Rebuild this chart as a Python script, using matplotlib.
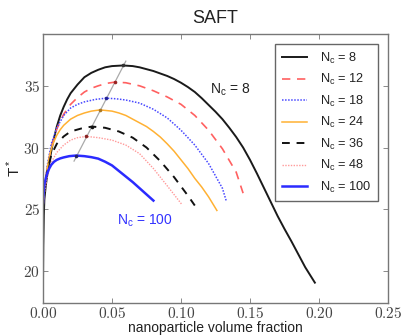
import numpy as np
import matplotlib
matplotlib.use("Agg")
import matplotlib.pyplot as plt
from matplotlib.ticker import FuncFormatter

# --- data ---
chain_lengths = [8, 12, 18, 24, 36, 48, 100]

x8 = [0.0, 0.0002, 0.0006, 0.001, 0.002, 0.003, 0.004, 0.0055, 0.007, 0.0085, 0.01, 0.0125,
      0.015, 0.0175, 0.02, 0.025, 0.03, 0.035, 0.04, 0.045, 0.05, 0.058, 0.065, 0.07, 0.075,
      0.08, 0.085, 0.09, 0.095, 0.10, 0.105, 0.11, 0.115, 0.12, 0.125, 0.13, 0.135, 0.14,
      0.145, 0.15, 0.155, 0.16, 0.165, 0.17, 0.175, 0.18, 0.185, 0.19, 0.197]
T8 = [19.0, 22.0, 24.5, 25.8, 26.9, 27.7, 28.4, 29.4, 30.3, 31.0, 31.7, 32.6,
      33.3, 33.9, 34.4, 35.1, 35.7, 36.05, 36.3, 36.5, 36.6, 36.65, 36.6, 36.5, 36.35,
      36.2, 36.0, 35.8, 35.55, 35.25, 34.9, 34.5, 34.0, 33.45, 32.9, 32.3, 31.6, 30.85,
      30.0, 29.0, 27.9, 26.75, 25.6, 24.45, 23.4, 22.4, 21.35, 20.3, 19.05]

x12 = [0.0, 0.001, 0.003, 0.006, 0.01, 0.015, 0.02, 0.025, 0.03, 0.035, 0.04, 0.046, 0.052,
       0.06, 0.07, 0.08, 0.09, 0.10, 0.11, 0.12, 0.13, 0.14, 0.145]
T12 = [25.3, 26.4, 28.3, 30.0, 31.5, 32.7, 33.5, 34.05, 34.5, 34.8, 35.0, 35.2, 35.3,
       35.25, 35.0, 34.6, 34.1, 33.5, 32.6, 31.4, 29.9, 28.0, 26.3]

x18 = [0.0, 0.001, 0.003, 0.006, 0.01, 0.015, 0.02, 0.025, 0.03, 0.038, 0.0457, 0.053, 0.06,
       0.07, 0.08, 0.09, 0.10, 0.11, 0.12, 0.13, 0.133]
T18 = [25.2, 26.5, 28.5, 30.3, 31.6, 32.6, 33.2, 33.5, 33.7, 33.9, 34.0, 33.95, 33.85,
       33.6, 33.1, 32.4, 31.4, 30.2, 28.7, 26.7, 25.6]

x24 = [0.0, 0.001, 0.002, 0.003, 0.0045, 0.006, 0.008, 0.01, 0.0125, 0.015, 0.0175, 0.02,
       0.025, 0.03, 0.035, 0.0413, 0.05, 0.055, 0.06, 0.065, 0.07, 0.075, 0.08, 0.085,
       0.09, 0.095, 0.10, 0.105, 0.11, 0.115, 0.12, 0.126]
T24 = [25.1, 26.5, 27.5, 28.3, 29.2, 29.9, 30.5, 31.0, 31.45, 31.8, 32.05, 32.3,
       32.6, 32.8, 32.95, 33.05, 32.95, 32.8, 32.6, 32.3, 32.0, 31.7, 31.3, 30.85,
       30.3, 29.7, 29.0, 28.3, 27.5, 26.8, 26.0, 24.9]

x36 = [0.0, 0.001, 0.003, 0.006, 0.01, 0.015, 0.02, 0.028, 0.0355, 0.045, 0.055, 0.065,
       0.075, 0.085, 0.095, 0.105, 0.110]
T36 = [25.2, 26.4, 28.0, 29.4, 30.3, 30.9, 31.3, 31.55, 31.7, 31.6, 31.3, 30.8,
       30.0, 28.9, 27.6, 26.1, 25.3]

x48 = [0.0, 0.001, 0.003, 0.006, 0.01, 0.015, 0.02, 0.025, 0.0314, 0.04, 0.05, 0.06,
       0.07, 0.08, 0.09, 0.1005]
T48 = [25.3, 26.3, 27.6, 28.8, 29.6, 30.2, 30.6, 30.8, 30.9, 30.8, 30.6, 30.2,
       29.5, 28.3, 26.9, 25.4]

x100 = [0.0, 0.0003, 0.001, 0.002, 0.003, 0.0045, 0.006, 0.008, 0.01, 0.0125, 0.015,
        0.019, 0.024, 0.03, 0.035, 0.04, 0.045, 0.05, 0.055, 0.06, 0.065, 0.07, 0.075, 0.08]
T100 = [25.5, 26.0, 27.0, 27.5, 27.9, 28.3, 28.6, 28.85, 29.0, 29.12, 29.2,
        29.3, 29.35, 29.3, 29.22, 29.1, 28.85, 28.55, 28.1, 27.65, 27.2, 26.7, 26.2, 25.7]

# critical points (dots) and the line through them
crit_x = [0.058, 0.052, 0.0457, 0.0413, 0.0355, 0.0314, 0.024]
crit_T = [36.65, 35.3, 34.0, 33.05, 31.7, 30.9, 29.35]
crit_line_x = [0.0225, 0.060]
crit_line_T = [28.9, 37.0]

xs = [x8, x12, x18, x24, x36, x48, x100]
Ts = [T8, T12, T18, T24, T36, T48, T100]

styles = [
    dict(color="#1a1a1a", ls="-", lw=1.4),
    dict(color="#ff6060", ls=(0, (5, 4)), lw=1.2),
    dict(color="#4848ff", ls=(0, (1, 1)), lw=1.1),
    dict(color="#ffb133", ls="-", lw=1.1),
    dict(color="#111111", ls=(0, (4, 3.5)), lw=1.4),
    dict(color="#ff9a9a", ls=(0, (1, 1)), lw=1.0),
    dict(color="#2b2bff", ls="-", lw=1.8),
]
dot_colors = ["#333333", "#992222", "#222299", "#aa7722", "#111111", "#882222", "#222266"]

sans = ["Liberation Sans", "DejaVu Sans"]
plt.rcParams["font.family"] = sans
plt.rcParams["mathtext.fontset"] = "cm"

fig = plt.figure(figsize=(4.03, 3.36), dpi=100)
ax = fig.add_axes([0.1067, 0.0982, 0.8561, 0.8006])

ax.plot(crit_line_x, crit_line_T, color="#aaaaaa", lw=0.9, zorder=1)
for x, T, n, st in zip(xs, Ts, chain_lengths, styles):
    ax.plot(x, T, label=r"N$\mathregular{_c}$ = %d" % n, zorder=2, **st)
for cx, cT, c in zip(crit_x, crit_T, dot_colors):
    ax.plot(cx, cT, "o", ms=2.6, color=c, mec="none", zorder=3)

ax.text(0.136, 34.7, r"N$\mathregular{_c}$ = 8", fontsize=10, color="#222222",
        ha="center", va="center")
ax.text(0.074, 24.1, r"N$\mathregular{_c}$ = 100", fontsize=10, color="#3333ff",
        ha="center", va="center")

ax.set_xlim(0, 0.25)
ax.set_ylim(17.4, 39.2)
ax.set_xticks([0.0, 0.05, 0.10, 0.15, 0.20, 0.25])
ax.set_yticks([20, 25, 30, 35])
ax.xaxis.set_major_formatter(FuncFormatter(lambda v, p: r"$%.2f$" % v))
ax.yaxis.set_major_formatter(FuncFormatter(lambda v, p: r"$%d$" % v))
ax.tick_params(direction="in", length=3.5, width=0.6, colors="#777777",
               labelcolor="#444444", labelsize=11, top=True, right=True, pad=2)
for sp in ax.spines.values():
    sp.set_color("#777777")
    sp.set_linewidth(1.0)

ax.set_xlabel("nanoparticle volume fraction", fontsize=10, color="#222222", labelpad=0)
ax.set_ylabel(r"T$\mathregular{^*}$", fontsize=11, color="#222222", labelpad=0)
ax.set_title("SAFT", fontsize=13, color="#222222", pad=8)

leg = ax.legend(loc="upper right", fontsize=9.2, handlelength=2.0, handletextpad=1.0,
                labelspacing=0.5, borderpad=0.5, fancybox=False, framealpha=1,
                borderaxespad=0.8)
leg.get_frame().set_edgecolor("#666666")
leg.get_frame().set_linewidth(1.0)
for t in leg.get_texts():
    t.set_color("#222222")

fig.savefig("out.png", dpi=100)
